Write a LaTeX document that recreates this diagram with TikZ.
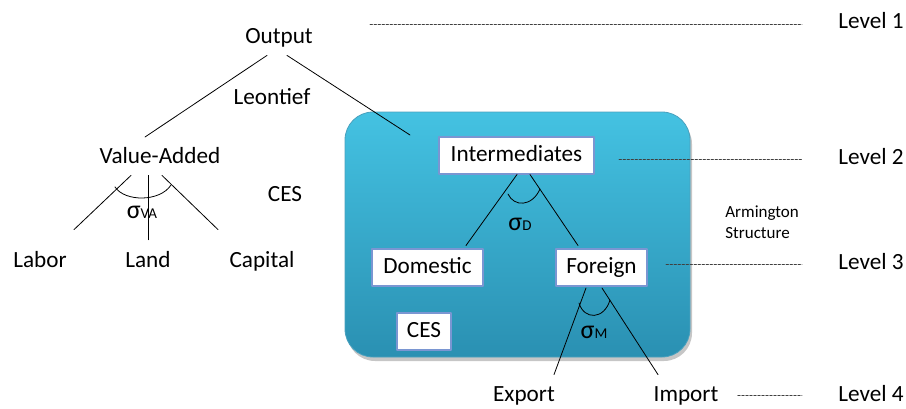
\documentclass[tikz,border=0pt]{standalone}
\usepackage{fontspec}
\setmainfont{Carlito}
\usetikzlibrary{shadows}
\definecolor{armtop}{HTML}{44C2E2}
\definecolor{armbot}{HTML}{2A90B2}
\definecolor{boxline}{HTML}{7A96D2}
\begin{document}
\begin{tikzpicture}[x=0.5pt,y=-0.5pt,line join=round,line cap=round,
    font=\fontsize{11.6}{13.5}\selectfont,
    lbl/.style={inner sep=1pt,text height=8pt,text depth=2pt},
    wbox/.style={lbl,draw=boxline,line width=1pt,fill=white,minimum height=18.5pt},
    lvl/.style={dash pattern=on 1.2pt off 0.8pt,line width=0.4pt,black!75},
    sig/.style={inner sep=0pt}]
    \useasboundingbox (0,0) rectangle (906,408);

    % Armington nest
    \shade[top color=armtop,bottom color=armbot,draw=armbot!85!white,rounded corners=14pt,
        drop shadow={shadow xshift=1pt,shadow yshift=-2pt,opacity=0.45}] (345,112) rectangle (690,357);

    \node[lbl] (out) at (279,37) {Output};
    \node[lbl] (leo) at (272,98) {Leontief};
    \node[lbl] (va) at (160,157) {Value-Added};
    \node[lbl] (ces1) at (285,195) {CES};
    \node[lbl] (lab) at (40,261) {Labor};
    \node[lbl] (land) at (148,261) {Land};
    \node[lbl] (cap) at (262,261) {Capital};

    \node[wbox,minimum width=77.5pt] (int) at (516.5,155) {Intermediates};
    \node[wbox,minimum width=55.5pt] (dom) at (427.5,267) {Domestic};
    \node[wbox,minimum width=45.5pt] (for) at (601.5,267) {Foreign};
    \node[wbox,minimum width=27pt] (ces2) at (424,331) {CES};
    \node[lbl] (exp) at (524,395) {Export};
    \node[lbl] (imp) at (686,395) {Import};

    \node[sig] (sva) at (142,212) {{\fontsize{13}{13}\selectfont σ}{\fontsize{7.5}{9}\selectfont VA}};
    \node[sig] (sd) at (520,224) {{\fontsize{13}{13}\selectfont σ}{\fontsize{7.5}{9}\selectfont D}};
    \node[sig] (sm) at (594,332) {{\fontsize{13}{13}\selectfont σ}{\fontsize{7.5}{9}\selectfont M}};

    \node[anchor=west,align=left,inner sep=0pt,font=\fontsize{8.5}{10.5}\selectfont] (arm) at (725,222) {Armington\\Structure};

    \node[lbl,anchor=west] (lv1) at (836,22) {Level 1};
    \node[lbl,anchor=west] (lv2) at (836,158) {Level 2};
    \node[lbl,anchor=west] (lv3) at (836,263) {Level 3};
    \node[lbl,anchor=west] (lv4) at (836,395) {Level 4};

    \coordinate (vatop) at (145,137);
    \coordinate (inttop) at (410,135);
    \coordinate (lvstart) at (370,24);

    % Leontief branches
    \draw ([shift={(-12,6)}]out.south) -- (vatop);
    \draw ([shift={(8,6)}]out.south) -- (inttop);

    % CES of value added
    \draw ([shift={(-29,6)}]va.south) -- ([shift={(34,-19)}]lab.north);
    \draw ([shift={(-12,6)}]va.south) -- ([shift={(0,-9)}]land.north);
    \draw ([shift={(2,6)}]va.south) -- ([shift={(-44,-19)}]cap.north);
    \draw (115,187) .. controls (125,202) and (160,202) .. (171,185);

    % Armington
    \draw ([shift={(0.5,0)}]int.south) -- ([shift={(38.5,-2)}]dom.north);
    \draw ([shift={(13.5,0)}]int.south) -- ([shift={(-23.5,-2)}]for.north);
    \draw (508,194) .. controls (514,207) and (532,207) .. (540,189);
    \draw ([shift={(-15.5,1.5)}]for.south) -- ([shift={(30,-8)}]exp.north);
    \draw ([shift={(0.5,1.5)}]for.south) -- ([shift={(-28,-8)}]imp.north);
    \draw (579,303) .. controls (584,320) and (604,320) .. (610,300);

    % levels
    \draw[lvl] (lvstart) -- ([shift={(-34,2)}]lv1.west);
    \draw[lvl] ([shift={(24,4)}]int.east) -- ([shift={(-34,1)}]lv2.west);
    \draw[lvl] ([shift={(18,-3)}]for.east) -- ([shift={(-34,1)}]lv3.west);
    \draw[lvl] ([shift={(17,0)}]imp.east) -- ([shift={(-34,0)}]lv4.west);
\end{tikzpicture}
\end{document}
